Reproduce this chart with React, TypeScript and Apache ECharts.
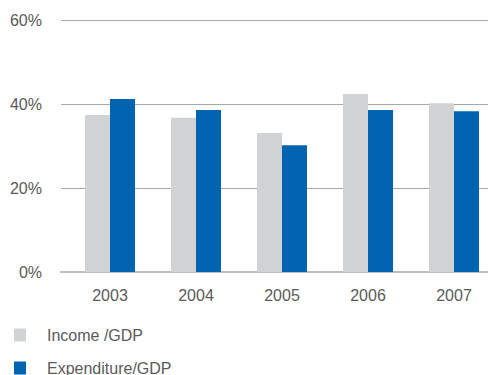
import React, { useEffect, useRef } from "react";
import * as echarts from "echarts";

const years = ["2003", "2004", "2005", "2006", "2007"];
const incomeGdp = [37.4, 36.7, 33.1, 42.4, 40.2];
const expenditureGdp = [41.2, 38.6, 30.2, 38.6, 38.3];
const seriesNames = ["Income /GDP", "Expenditure/GDP"];
const yTicks = { min: 0, max: 60, interval: 20 };

const FONT = "'Liberation Sans', Arial, Helvetica, sans-serif";

const legendBase = {
  orient: "vertical",
  left: 9,
  itemWidth: 12,
  itemHeight: 13,
  icon: "rect",
  textStyle: {
    fontFamily: FONT,
    fontSize: 16,
    color: "#5a5a5a",
    padding: [0, 0, 0, 16],
  },
};

export default function App() {
  const ref = useRef<HTMLDivElement>(null);
  useEffect(() => {
    if (!ref.current) return;
    const chart = echarts.init(ref.current, null, { renderer: "svg" });
    chart.setOption({
      animation: false,
      backgroundColor: "#ffffff",
      textStyle: { fontFamily: FONT },
      grid: [
        { left: 61, right: 0, top: 20, bottom: 103, containLabel: false, outerBoundsMode: "none" },
        { left: 67, width: 430, top: 20, bottom: 103, containLabel: false, outerBoundsMode: "none" },
      ],
      legend: [
        { ...legendBase, top: 322, data: [seriesNames[0]] },
        { ...legendBase, top: 355, data: [seriesNames[1]] },
      ],
      xAxis: [
        {
          gridIndex: 0,
          type: "value",
          min: 0,
          max: 1,
          show: true,
          position: "bottom",
          axisLine: { show: true, onZero: false, lineStyle: { color: "#bdbdbd", width: 2 } },
          axisTick: { show: false },
          axisLabel: { show: false },
          splitLine: { show: false },
        },
        {
          gridIndex: 1,
          type: "category",
          data: years,
          axisLine: { show: false },
          axisTick: { show: false },
          axisLabel: {
            margin: 15,
            fontSize: 16,
            color: "#5a5a5a",
            fontFamily: FONT,
          },
        },
      ],
      yAxis: [
        {
          gridIndex: 0,
          type: "value",
          min: yTicks.min,
          max: yTicks.max,
          interval: yTicks.interval,
          axisLine: { show: false },
          axisTick: { show: false },
          axisLabel: {
            formatter: "{value}%",
            margin: 19,
            fontSize: 16,
            color: "#5a5a5a",
            fontFamily: FONT,
          },
          splitLine: { show: true, lineStyle: { color: "#a8a8a8", width: 1 } },
        },
        {
          gridIndex: 1,
          type: "value",
          min: yTicks.min,
          max: yTicks.max,
          interval: yTicks.interval,
          show: false,
          splitLine: { show: false },
        },
      ],
      series: [
        {
          name: seriesNames[0],
          type: "bar",
          xAxisIndex: 1,
          yAxisIndex: 1,
          data: incomeGdp,
          barWidth: 25,
          barGap: "0%",
          itemStyle: { color: "#d1d2d4" },
          z: 3,
        },
        {
          name: seriesNames[1],
          type: "bar",
          xAxisIndex: 1,
          yAxisIndex: 1,
          data: expenditureGdp,
          barWidth: 25,
          barGap: "0%",
          itemStyle: { color: "#0064b0" },
          z: 3,
        },
      ],
    });
    return () => chart.dispose();
  }, []);
  return (
    <div
      ref={ref}
      style={{ position: "fixed", left: 0, top: 0, width: 488, height: 375 }}
    />
  );
}
